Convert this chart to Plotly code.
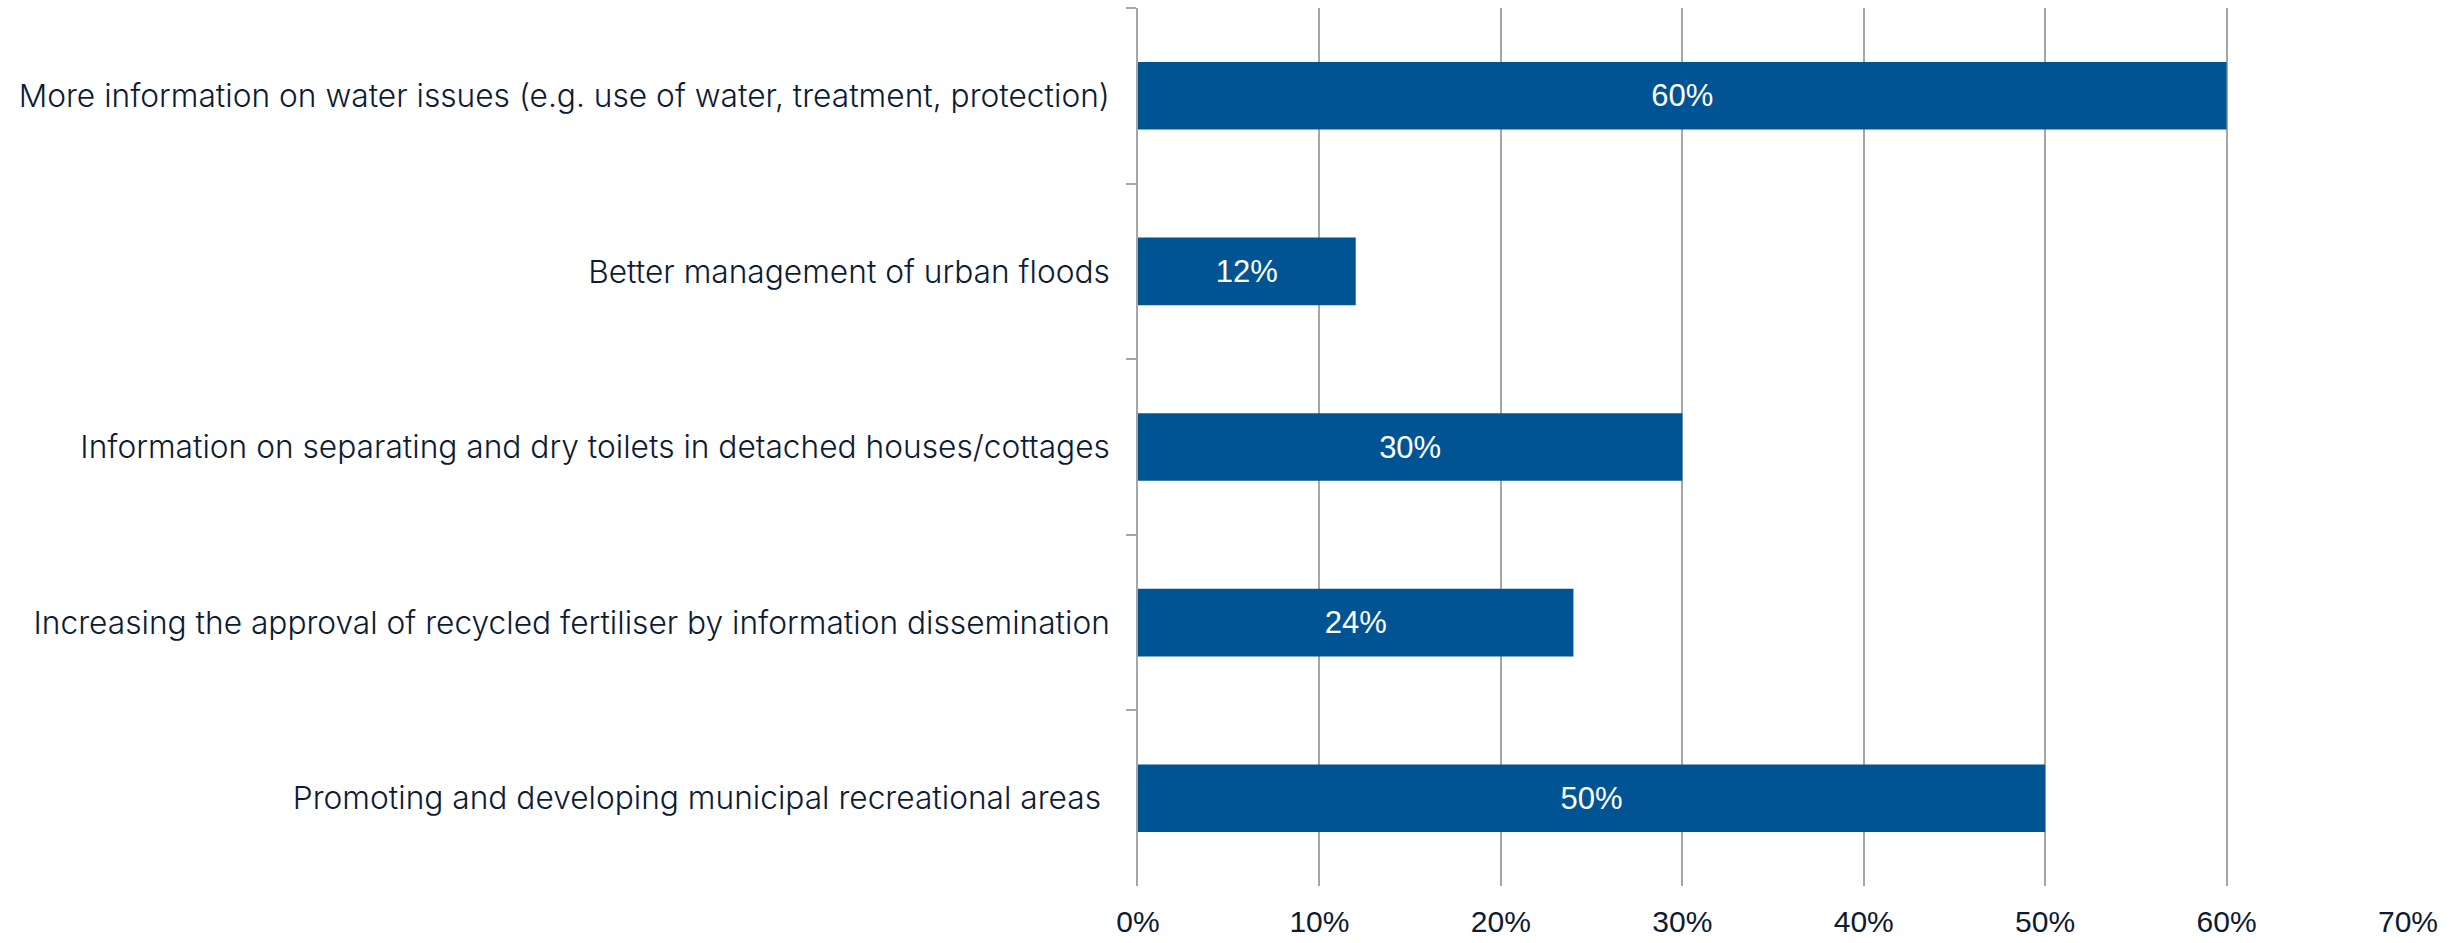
import plotly.graph_objects as go

categories = [
    "More information on water issues (e.g. use of water, treatment, protection)",
    "Better management of urban floods",
    "Information on separating and dry toilets in detached houses/cottages",
    "Increasing the approval of recycled fertiliser by information dissemination",
    "Promoting and developing municipal recreational areas ",
]
values = [0.60, 0.12, 0.30, 0.24, 0.50]
x_ticks = [0, 0.1, 0.2, 0.3, 0.4, 0.5, 0.6, 0.7]
x_tick_labels = ["0%", "10%", "20%", "30%", "40%", "50%", "60%", "70%"]

BAR = "#005493"
GRID = "#a6a6a6"
TEXT = "#0d1b33"

fig = go.Figure(go.Bar(
    x=values,
    y=categories,
    orientation="h",
    marker=dict(color=BAR, line=dict(width=0)),
    text=[f"{round(v*100)}%" for v in values],
    textposition="inside",
    insidetextanchor="middle",
    textfont=dict(family="Liberation Sans, Arial", size=31, color="white"),
    textangle=0,
    hoverinfo="skip",
))

fig.update_layout(
    width=2459, height=943,
    margin=dict(l=1138, r=51, t=8, b=57),
    plot_bgcolor="white", paper_bgcolor="white",
    bargap=0.615,
    showlegend=False,
    uniformtext=dict(minsize=10, mode="show"),
)

fig.update_xaxes(
    range=[0, 0.7],
    tickvals=x_ticks,
    ticktext=x_tick_labels,
    showgrid=True, gridcolor=GRID, gridwidth=1.5,
    zeroline=False,
    showline=False,
    ticks="",
    automargin=False,
    ticklabelstandoff=15,
    tickfont=dict(family="Liberation Sans, Arial", size=30, color=TEXT),
)

fig.update_yaxes(
    categoryorder="array",
    categoryarray=categories,
    autorange="reversed",
    showline=True, linecolor=GRID, linewidth=1.5,
    ticks="outside", tickson="boundaries", ticklen=10, tickcolor=GRID, tickwidth=1.5,
    showgrid=False,
    automargin=False,
    ticklabelstandoff=20,
    tickfont=dict(family="Inter", size=31.7, color=TEXT, weight=300),
)

fig.write_html(
    "out.html",
    config={"displayModeBar": False},
    post_script="document.body.style.margin='0';document.body.style.overflow='hidden';",
)
